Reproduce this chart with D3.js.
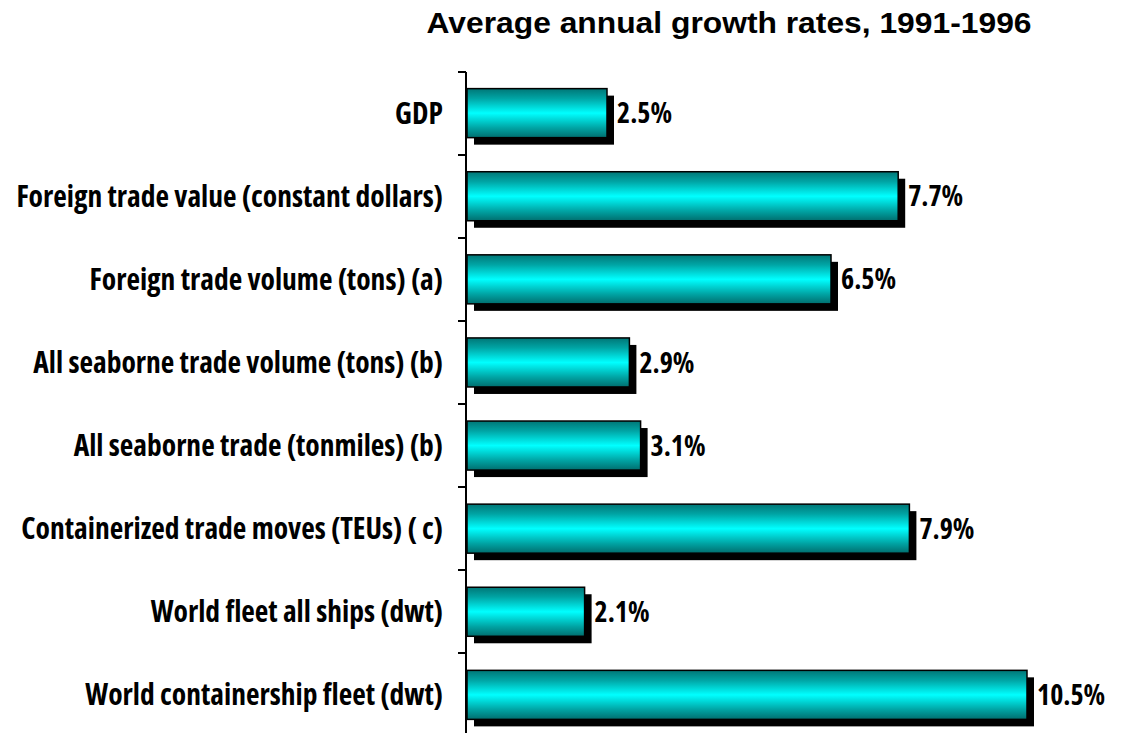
<!DOCTYPE html>
<html><head><meta charset="utf-8">
<script src="https://cdn.jsdelivr.net/npm/d3@7"></script>
<style>
body{margin:0;background:#fff;}
.lbl{font-family:"Open Sans","Roboto Condensed",sans-serif;font-stretch:condensed;font-weight:bold;}
</style></head>
<body><svg id="c" width="1136" height="733"></svg>
<script>
const categories = ["GDP","Foreign trade value (constant dollars)","Foreign trade volume (tons) (a)","All seaborne trade volume (tons) (b)","All seaborne trade (tonmiles) (b)","Containerized trade moves (TEUs) ( c)","World fleet all ships (dwt)","World containership fleet (dwt)"];
const values = [2.5,7.7,6.5,2.9,3.1,7.9,2.1,10.5];
const valueLabels = ["2.5%","7.7%","6.5%","2.9%","3.1%","7.9%","2.1%","10.5%"];
const xDomain = [0,10];
const title = "Average annual growth rates, 1991-1996";

(function(){
const svg = d3.select("#c");
const left = 467, right = 1027, plotTop = 72, bandH = 83;
const x = d3.scaleLinear().domain(xDomain).range([left,right]).clamp(true);
const y = d3.scaleBand().domain(categories).range([plotTop, plotTop+bandH*categories.length]).paddingInner(0.41).paddingOuter(0.2);

const defs = svg.append("defs");
const g = defs.append("linearGradient").attr("id","cyan").attr("x1",0).attr("y1",0).attr("x2",0).attr("y2",1);
[[0,"#007777"],[0.2,"#00a4a4"],[0.5,"#00ffff"],[0.8,"#00a4a4"],[1,"#006e6e"]].forEach(s=>g.append("stop").attr("offset",s[0]).attr("stop-color",s[1]));

svg.append("text").attr("x",729).attr("y",33).attr("text-anchor","middle")
  .style("font-family","'Liberation Sans',Arial,sans-serif").style("font-weight","bold").style("font-size","30px")
  .attr("textLength",605).attr("lengthAdjust","spacingAndGlyphs").text(title);

const off = 7;
const bars = svg.append("g");
bars.selectAll("rect.sh").data(values).join("rect").attr("class","sh")
  .attr("x",left+off).attr("y",(d,i)=>y(categories[i])+off)
  .attr("width",d=>x(d)-left).attr("height",y.bandwidth()).attr("fill","#000");
bars.selectAll("rect.bar").data(values).join("rect").attr("class","bar")
  .attr("x",left).attr("y",(d,i)=>y(categories[i]))
  .attr("width",d=>x(d)-left).attr("height",y.bandwidth()).attr("fill","url(#cyan)")
  .attr("stroke","#000").attr("stroke-width",1.5);
bars.selectAll("text").data(values).join("text").attr("class","lbl")
  .attr("x",d=>x(d)+off+3).attr("y",(d,i)=>y(categories[i])+y.bandwidth()/2).attr("dy","0.36em")
  .style("font-size","28px").text((d,i)=>valueLabels[i]);

const yAxis = d3.axisLeft(y).tickSize(0).tickPadding(23);
const ax = svg.append("g").attr("transform",`translate(${left-1},0)`).call(yAxis);
ax.select(".domain").remove();
ax.selectAll("text").attr("class","lbl").style("font-size","29.5px").attr("fill","#000").attr("dy","0.36em");
const bounds = d3.range(categories.length+1).map(i=>plotTop+i*bandH);
svg.append("line").attr("x1",left-1).attr("x2",left-1).attr("y1",plotTop).attr("y2",733).attr("stroke","#000").attr("stroke-width",2);
svg.selectAll("line.tk").data(bounds).join("line").attr("class","tk")
  .attr("x1",left-9).attr("x2",left-1).attr("y1",d=>d).attr("y2",d=>d).attr("stroke","#000").attr("stroke-width",2);
})();
</script></body></html>
